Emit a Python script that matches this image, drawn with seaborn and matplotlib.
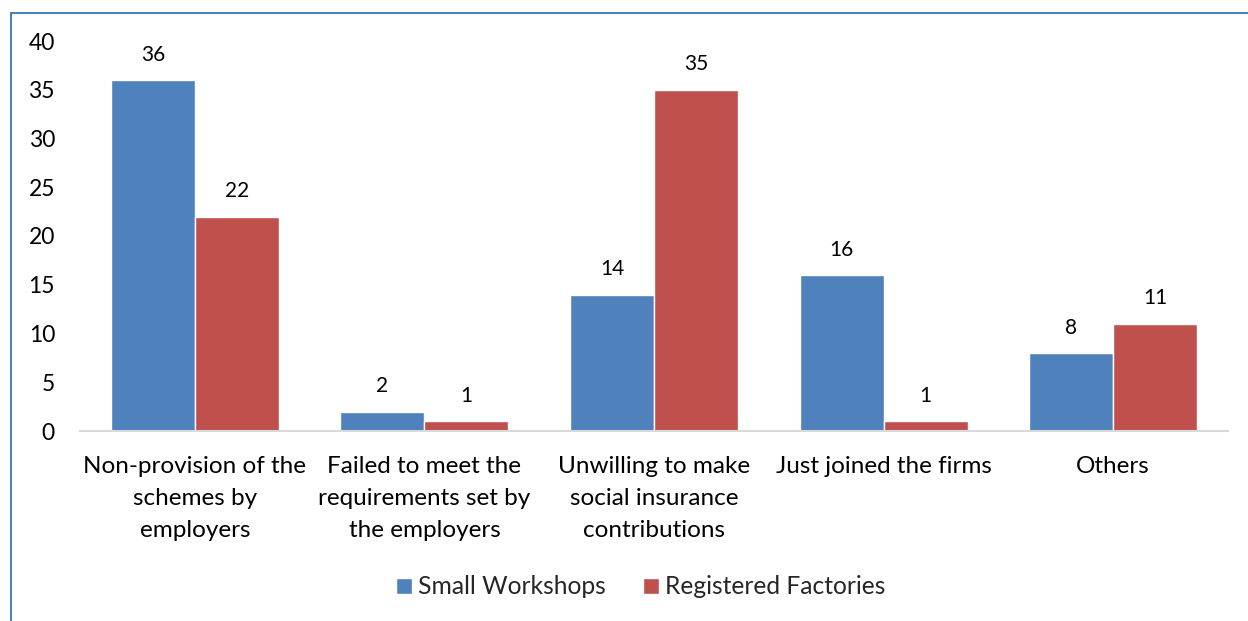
import matplotlib
matplotlib.use("Agg")
import matplotlib.pyplot as plt
import seaborn as sns
import pandas as pd
from matplotlib.patches import Rectangle

categories = ["Non-provision of the\nschemes by\nemployers",
              "Failed to meet the\nrequirements set by\nthe employers",
              "Unwilling to make\nsocial insurance\ncontributions",
              "Just joined the firms",
              "Others"]
small_workshops = [36, 2, 14, 16, 8]
registered_factories = [22, 1, 35, 1, 11]
series_names = ["Small Workshops", "Registered Factories"]
yticks = [0, 5, 10, 15, 20, 25, 30, 35, 40]

df = pd.DataFrame({
    "category": categories * 2,
    "value": small_workshops + registered_factories,
    "series": [series_names[0]] * len(categories) + [series_names[1]] * len(categories),
})

sns.set_theme(style="white")
plt.rcParams['font.family'] = ['Lato', 'DejaVu Sans']

W, H = 1248, 621
fig = plt.figure(figsize=(W / 100, H / 100), dpi=100)
ax = fig.add_axes([80 / W, 1 - 431 / H, (1228 - 80) / W, (431 - 41) / H])

sns.barplot(data=df, x="category", y="value", hue="series",
            palette=["#4F81BD", "#C0504D"], width=0.732, saturation=1,
            ax=ax, legend=True)

for c in ax.containers:
    ax.bar_label(c, padding=11, fontsize=15, color="black")

ax.set_ylim(0, 40)
ax.set_xlim(-0.5, len(categories) - 0.5)
ax.set_yticks(yticks)
ax.set_yticklabels([str(t) for t in yticks], fontsize=16.5, color="black")
ax.tick_params(axis="y", length=0, pad=18)
ax.tick_params(axis="x", length=0, pad=18, labelsize=17.5, labelcolor="black")
for s in ["top", "right", "left"]:
    ax.spines[s].set_visible(False)
ax.spines["bottom"].set_color("#D9D9D9")
ax.spines["bottom"].set_linewidth(1.5)
ax.set_xlabel("")
ax.set_ylabel("")
ax.grid(False)

for lbl in ax.get_xticklabels():
    lbl.set_linespacing(1.65)

handles, labels = ax.get_legend_handles_labels()
ax.legend_.remove()
fig.legend(handles, labels, loc="center", bbox_to_anchor=(641 / W, 1 - 587 / H),
           ncol=2, frameon=False, fontsize=17.7, handlelength=0.65, handleheight=0.65,
           handletextpad=0.25, columnspacing=1.5)

fig.patches.append(Rectangle((11 / W, -0.1), 1.2, 1 - 13 / H + 0.1,
                             transform=fig.transFigure, fill=False,
                             edgecolor="#4F81BD", linewidth=1.5))

fig.savefig("out.png", dpi=100)
